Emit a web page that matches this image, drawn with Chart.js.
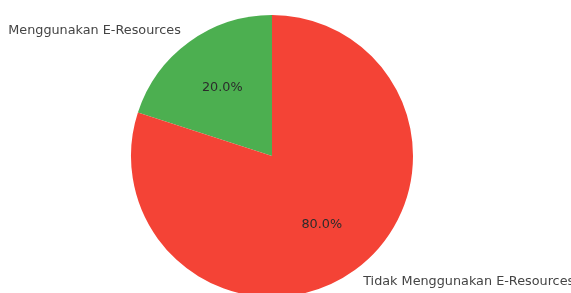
<!DOCTYPE html>
<html>
<head>
<meta charset="utf-8">
<script src="https://cdn.jsdelivr.net/npm/chart.js@4"></script>
<style>
  html, body { margin: 0; padding: 0; background: #fff; overflow: hidden; }
  #wrap { width: 571px; height: 293px; }
</style>
</head>
<body>
<div id="wrap"><canvas id="chart" width="571" height="293"></canvas></div>
<script>
// pie data
const labels = ['Menggunakan E-Resources', 'Tidak Menggunakan E-Resources'];
const values = [20, 80];
const colors = ['#4caf50', '#f44336'];

// draws outside labels and percentages like matplotlib autopct
const pieText = {
    id: 'pieText',
    afterDatasetsDraw(chart) {
        const ctx = chart.ctx;
        const meta = chart.getDatasetMeta(0);
        const total = values.reduce((a, b) => a + b, 0);
        ctx.save();
        ctx.font = '12.8px "DejaVu Sans"';
        ctx.textBaseline = 'middle';
        meta.data.forEach((arc, i) => {
            const mid = (arc.startAngle + arc.endAngle) / 2;
            const r = arc.outerRadius;
            const cos = Math.cos(mid), sin = Math.sin(mid);
            // percentage at 0.6 r
            ctx.fillStyle = '#2b2b2b';
            ctx.textAlign = 'center';
            ctx.fillText((values[i] / total * 100).toFixed(1) + '%', arc.x + 0.6 * r * cos, arc.y + 0.6 * r * sin);
            // label at 1.1 r
            ctx.fillStyle = '#444';
            ctx.textAlign = cos < 0 ? 'right' : 'left';
            ctx.fillText(labels[i], arc.x + 1.1 * r * cos, arc.y + 1.1 * r * sin);
        });
        ctx.restore();
    }
};

new Chart(document.getElementById('chart'), {
    type: 'pie',
    data: {
        labels,
        datasets: [{
            data: values,
            backgroundColor: colors,
            borderWidth: 0,
            clip: false
        }]
    },
    options: {
        responsive: false,
        animation: false,
        rotation: -72,
        radius: 141,
        layout: { padding: { left: 0, right: 27, top: 19, bottom: 0 } },
        plugins: {
            legend: { display: false },
            tooltip: { enabled: false }
        }
    },
    plugins: [pieText]
});
</script>
</body>
</html>
